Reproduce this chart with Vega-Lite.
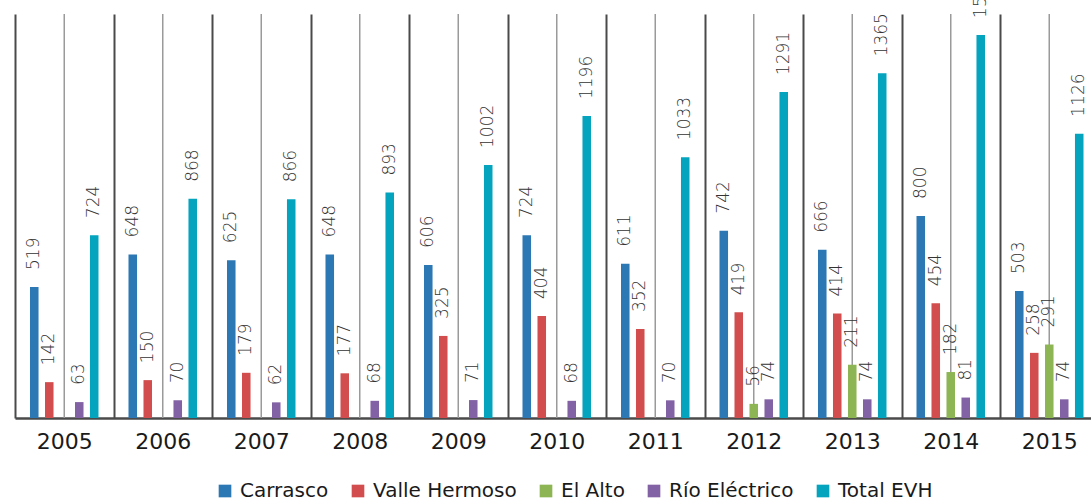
{
  "$schema": "https://vega.github.io/schema/vega-lite/v6.json",
  "width": 1076,
  "height": 404,
  "autosize": {"type": "none"},
  "padding": {"left": 15, "top": 14, "right": 0, "bottom": 84},
  "background": "white",
  "config": {"view": {"stroke": null}, "font": "DejaVu Sans"},
  "data": {"values": [
    {"year": "2005", "series": "Carrasco", "value": 519},
    {"year": "2005", "series": "Valle Hermoso", "value": 142},
    {"year": "2005", "series": "Río Eléctrico", "value": 63},
    {"year": "2005", "series": "Total EVH", "value": 724},
    {"year": "2006", "series": "Carrasco", "value": 648},
    {"year": "2006", "series": "Valle Hermoso", "value": 150},
    {"year": "2006", "series": "Río Eléctrico", "value": 70},
    {"year": "2006", "series": "Total EVH", "value": 868},
    {"year": "2007", "series": "Carrasco", "value": 625},
    {"year": "2007", "series": "Valle Hermoso", "value": 179},
    {"year": "2007", "series": "Río Eléctrico", "value": 62},
    {"year": "2007", "series": "Total EVH", "value": 866},
    {"year": "2008", "series": "Carrasco", "value": 648},
    {"year": "2008", "series": "Valle Hermoso", "value": 177},
    {"year": "2008", "series": "Río Eléctrico", "value": 68},
    {"year": "2008", "series": "Total EVH", "value": 893},
    {"year": "2009", "series": "Carrasco", "value": 606},
    {"year": "2009", "series": "Valle Hermoso", "value": 325},
    {"year": "2009", "series": "Río Eléctrico", "value": 71},
    {"year": "2009", "series": "Total EVH", "value": 1002},
    {"year": "2010", "series": "Carrasco", "value": 724},
    {"year": "2010", "series": "Valle Hermoso", "value": 404},
    {"year": "2010", "series": "Río Eléctrico", "value": 68},
    {"year": "2010", "series": "Total EVH", "value": 1196},
    {"year": "2011", "series": "Carrasco", "value": 611},
    {"year": "2011", "series": "Valle Hermoso", "value": 352},
    {"year": "2011", "series": "Río Eléctrico", "value": 70},
    {"year": "2011", "series": "Total EVH", "value": 1033},
    {"year": "2012", "series": "Carrasco", "value": 742},
    {"year": "2012", "series": "Valle Hermoso", "value": 419},
    {"year": "2012", "series": "El Alto", "value": 56},
    {"year": "2012", "series": "Río Eléctrico", "value": 74},
    {"year": "2012", "series": "Total EVH", "value": 1291},
    {"year": "2013", "series": "Carrasco", "value": 666},
    {"year": "2013", "series": "Valle Hermoso", "value": 414},
    {"year": "2013", "series": "El Alto", "value": 211},
    {"year": "2013", "series": "Río Eléctrico", "value": 74},
    {"year": "2013", "series": "Total EVH", "value": 1365},
    {"year": "2014", "series": "Carrasco", "value": 800},
    {"year": "2014", "series": "Valle Hermoso", "value": 454},
    {"year": "2014", "series": "El Alto", "value": 182},
    {"year": "2014", "series": "Río Eléctrico", "value": 81},
    {"year": "2014", "series": "Total EVH", "value": 1517},
    {"year": "2015", "series": "Carrasco", "value": 503},
    {"year": "2015", "series": "Valle Hermoso", "value": 258},
    {"year": "2015", "series": "El Alto", "value": 291},
    {"year": "2015", "series": "Río Eléctrico", "value": 74},
    {"year": "2015", "series": "Total EVH", "value": 1126}
  ]},
  "layer": [
    {
      "transform": [{"filter": "datum.series === 'Carrasco'"}],
      "mark": {"type": "rule", "color": "#9a9a9a", "strokeWidth": 1.5},
      "encoding": {
        "x": {"field": "year", "type": "ordinal", "scale": {"paddingInner": 0, "paddingOuter": 0, "range": [0, 1083.5]},
          "axis": {"title": null, "labelAngle": 0, "labelFontSize": 22, "labelFont": "DejaVu Sans", "labelColor": "#1a1a1a", "labelPadding": 13,
            "ticks": false, "domainColor": "#4a4a4a", "domainWidth": 2.5, "grid": true, "gridColor": "#4a4a4a",
            "gridWidth": 2, "tickBand": "extent"}}
      }
    },
    {
      "mark": {"type": "bar"},
      "encoding": {
        "x": {"field": "year", "type": "ordinal"},
        "xOffset": {"field": "series", "type": "nominal",
          "scale": {"domain": ["Carrasco", "Valle Hermoso", "El Alto", "Río Eléctrico", "Total EVH"], "paddingInner": 0.43, "paddingOuter": 1.23}},
        "y": {"field": "value", "type": "quantitative", "scale": {"domain": [0, 1600], "nice": false}, "axis": null},
        "color": {"field": "series", "type": "nominal",
          "scale": {"domain": ["Carrasco", "Valle Hermoso", "El Alto", "Río Eléctrico", "Total EVH"],
            "range": ["#2c78b4", "#d24e4e", "#8db553", "#8262a5", "#05a4be"]},
          "legend": {"title": null, "orient": "none", "legendX": 200, "legendY": 467, "direction": "horizontal",
            "symbolType": "square", "symbolSize": 160, "symbolStrokeWidth": 0, "symbolOpacity": 1,
            "labelFont": "DejaVu Sans", "labelFontSize": 20, "labelColor": "#1a1a1a", "labelOffset": 5, "columnPadding": 19}}
      }
    },
    {
      "mark": {"type": "text", "angle": 270, "align": "left", "baseline": "middle", "dx": 17, "fontSize": 17, "font": "DejaVu Sans", "fontWeight": 200, "color": "#333333"},
      "encoding": {
        "x": {"field": "year", "type": "ordinal"},
        "xOffset": {"field": "series", "type": "nominal",
          "scale": {"domain": ["Carrasco", "Valle Hermoso", "El Alto", "Río Eléctrico", "Total EVH"], "paddingInner": 0.43, "paddingOuter": 1.23}},
        "y": {"field": "value", "type": "quantitative"},
        "text": {"field": "value", "type": "quantitative"}
      }
    }
  ]
}
